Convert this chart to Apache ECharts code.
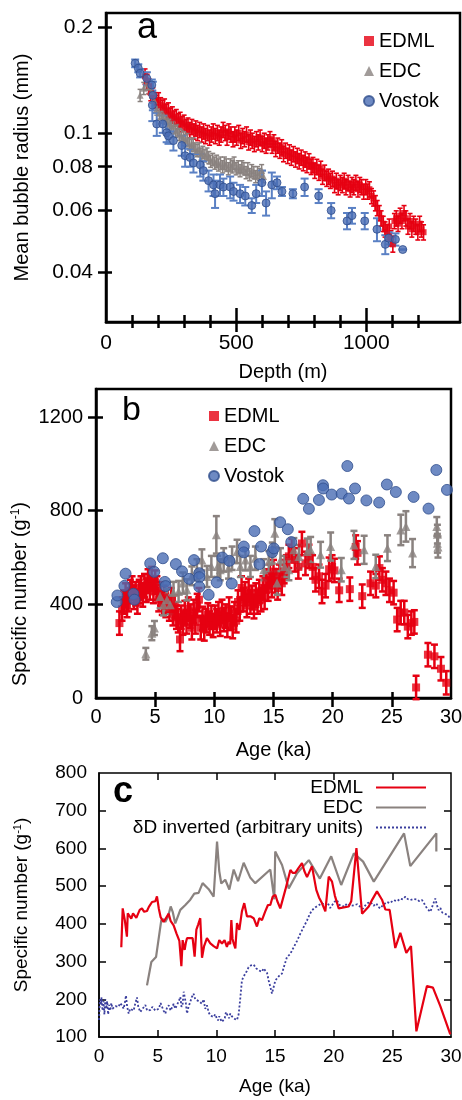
<!DOCTYPE html>
<html>
<head>
<meta charset="utf-8">
<script src="https://cdn.jsdelivr.net/npm/echarts@6/dist/echarts.min.js"></script>
<style>
  html, body { margin: 0; padding: 0; background: #fff; }
  #chart { width: 462px; height: 1100px; }
</style>
</head>
<body>
<div id="chart"></div>
<script>
// ---- panel a : mean bubble radius (mm) vs depth (m) ----
const edmlA = [[150,0.145],[158,0.140],[165,0.136],[172,0.130],[180,0.128],[188,0.124],[195,0.122],[202,0.124],[210,0.120],[218,0.118],[225,0.119],[232,0.115],[240,0.116],[248,0.112],[255,0.113],[262,0.110],[270,0.111],[278,0.108],[285,0.109],[292,0.106],[300,0.107],[308,0.104],[315,0.105],[322,0.102],[330,0.104],[338,0.101],[345,0.103],[352,0.100],[360,0.102],[368,0.099],[375,0.101],[382,0.098],[390,0.100],[398,0.097],[405,0.099],[412,0.101],[420,0.098],[428,0.100],[435,0.097],[442,0.099],[450,0.102],[458,0.100],[465,0.097],[472,0.101],[480,0.099],[488,0.096],[495,0.099],[502,0.097],[510,0.100],[518,0.095],[525,0.098],[532,0.096],[540,0.099],[548,0.094],[555,0.097],[562,0.095],[570,0.093],[578,0.096],[585,0.094],[592,0.097],[600,0.093],[608,0.095],[615,0.092],[622,0.094],[630,0.096],[638,0.092],[645,0.094],[652,0.090],[660,0.092],[668,0.089],[675,0.091],[682,0.087],[690,0.089],[698,0.086],[705,0.088],[712,0.085],[720,0.087],[728,0.084],[735,0.086],[742,0.083],[750,0.085],[758,0.082],[765,0.084],[772,0.081],[780,0.083],[788,0.080],[795,0.081],[802,0.078],[810,0.080],[818,0.077],[825,0.079],[832,0.075],[840,0.077],[848,0.074],[855,0.075],[862,0.073],[870,0.074],[878,0.071],[885,0.073],[892,0.070],[900,0.072],[908,0.071],[915,0.073],[922,0.070],[930,0.072],[938,0.069],[945,0.071],[952,0.070],[960,0.072],[968,0.069],[975,0.071],[982,0.070],[990,0.068],[998,0.070],[1005,0.068],[1012,0.069],[1020,0.066],[1028,0.065],[1035,0.063],[1042,0.061],[1050,0.059],[1057,0.057],[1065,0.055],[1072,0.053],[1080,0.052],[1088,0.054],[1095,0.050],[1102,0.048],[1108,0.056],[1115,0.057],[1122,0.055],[1130,0.058],[1137,0.056],[1145,0.059],[1152,0.057],[1160,0.054],[1168,0.056],[1175,0.053],[1182,0.055],[1190,0.054],[1198,0.052],[1205,0.055],[1212,0.053],[1220,0.052]];
const edmlRelErrA = 0.05;

const edcA = [[131,0.128],[145,0.134],[155,0.138],[165,0.135],[175,0.131],[185,0.124],[195,0.117],[205,0.114],[215,0.111],[222,0.112],[230,0.108],[238,0.109],[245,0.106],[252,0.105],[260,0.104],[268,0.101],[275,0.102],[282,0.099],[290,0.098],[298,0.097],[305,0.095],[312,0.096],[320,0.093],[328,0.092],[335,0.093],[342,0.090],[350,0.089],[358,0.090],[365,0.087],[372,0.088],[380,0.086],[388,0.087],[395,0.085],[402,0.083],[410,0.084],[418,0.082],[425,0.083],[432,0.081],[440,0.082],[448,0.080],[455,0.082],[462,0.081],[470,0.079],[478,0.081],[485,0.080],[492,0.082],[500,0.079],[508,0.080],[515,0.078],[522,0.080],[530,0.079],[538,0.077],[545,0.079],[552,0.076],[560,0.078],[568,0.077],[575,0.075],[582,0.077],[590,0.076],[598,0.078],[605,0.075]];
const edcRelErrA = 0.04;

// [depth, radius, error]
const vostokA = [[112,0.158,0.004],[124,0.153,0.004],[131,0.148,0.004],[157,0.143,0.006],[176,0.137,0.005],[180,0.128,0.012],[178,0.120,0.012],[195,0.106,0.008],[218,0.106,0.006],[233,0.100,0.006],[240,0.098,0.005],[259,0.095,0.006],[291,0.092,0.006],[304,0.086,0.006],[323,0.085,0.005],[336,0.082,0.005],[362,0.081,0.006],[374,0.078,0.005],[394,0.073,0.005],[413,0.071,0.005],[419,0.067,0.006],[438,0.071,0.005],[451,0.070,0.004],[477,0.070,0.005],[490,0.068,0.004],[515,0.067,0.004],[535,0.066,0.004],[560,0.062,0.003],[577,0.067,0.004],[599,0.072,0.006],[615,0.063,0.005],[637,0.071,0.006],[657,0.072,0.003],[676,0.068,0.002],[718,0.067,0.002],[763,0.070,0.004],[817,0.066,0.003],[865,0.060,0.003],[926,0.056,0.003],[945,0.058,0.003],[994,0.056,0.003],[1041,0.053,0.004],[1073,0.048,0.003],[1086,0.050,0.002],[1112,0.0496,0.002],[1140,0.0464,0]];

const depthLabels = [0, 500, 1000];
const depthMajor = [500, 1000];
const depthMinor = [100, 200, 300, 400, 600, 700, 800, 900, 1100, 1200];
const radiusTicks = [0.04, 0.06, 0.08, 0.1, 0.2];

// ---- panel b : specific number (g-1) vs age (ka) ----
const edmlB = [[1.98,320],[2.2,380],[2.35,410],[2.5,440],[2.62,395],[2.75,420],[2.9,455],[3.05,470],[3.2,430],[3.35,445],[3.5,410],[3.65,455],[3.8,470],[3.95,440],[4.1,480],[4.25,460],[4.4,500],[4.55,470],[4.7,510],[4.85,455],[5.0,495],[5.15,470],[5.3,420],[5.45,445],[5.6,405],[5.75,430],[5.9,395],[6.05,415],[6.2,380],[6.35,420],[6.5,360],[6.65,390],[6.8,345],[6.95,330],[7.1,250],[7.2,345],[7.35,320],[7.5,365],[7.65,325],[7.8,380],[7.95,350],[8.1,300],[8.25,370],[8.4,325],[8.55,395],[8.7,420],[8.85,300],[9.0,340],[9.15,295],[9.3,330],[9.45,355],[9.6,320],[9.75,345],[9.9,310],[10.05,345],[10.2,330],[10.35,360],[10.5,315],[10.65,370],[10.8,335],[10.95,350],[11.1,310],[11.25,380],[11.4,340],[11.55,305],[11.7,360],[11.85,330],[12.0,410],[12.15,380],[12.3,470],[12.45,420],[12.6,445],[12.75,395],[12.9,460],[13.05,410],[13.2,430],[13.35,390],[13.5,440],[13.65,410],[13.8,455],[13.95,420],[14.1,470],[14.25,430],[14.4,500],[14.55,465],[14.7,520],[14.85,480],[15.0,540],[15.15,500],[15.35,470],[15.5,520],[15.7,490],[15.9,540],[16.1,560],[16.3,605],[16.55,630],[16.8,590],[17.1,560],[17.4,660],[17.7,575],[18.0,605],[18.3,560],[18.55,505],[18.85,520],[19.1,455],[19.4,480],[19.7,550],[19.95,560],[20.15,545],[20.55,460],[21.45,465],[21.95,645],[22.1,620],[22.5,435],[23.2,490],[23.65,480],[23.95,555],[24.2,505],[24.5,490],[24.8,460],[25.15,450],[25.45,335],[25.75,365],[26.05,365],[26.35,305],[26.65,320],[26.9,325],[27.05,45],[28.05,185],[28.6,178],[29.15,125],[29.6,65]];
const edmlErrB = 50;

// [age, number, error]
const edcB = [[4.21,189,25],[4.72,277,30],[4.94,299,30],[5.42,434,50],[5.7,398,45],[6.0,420,45],[6.27,398,40],[6.55,451,45],[6.98,455,45],[7.34,491,45],[7.68,462,45],[8.1,522,40],[8.53,548,45],[8.95,590,45],[9.38,519,45],[9.75,562,45],[10.17,697,80],[10.28,562,45],[10.5,548,45],[10.79,590,50],[11.2,555,45],[11.5,597,50],[11.92,626,50],[12.2,562,45],[12.63,590,45],[13.05,562,45],[13.47,597,50],[14.18,548,45],[14.6,583,45],[14.9,619,45],[15.11,704,60],[15.3,491,50],[15.59,590,50],[15.93,562,45],[16.3,548,45],[16.72,633,50],[17.15,604,50],[17.85,626,55],[18.14,633,55],[18.98,612,55],[19.83,647,60],[20.73,548,50],[21.8,654,60],[22.66,633,60],[23.64,562,50],[24.63,640,55],[25.76,718,65],[26.19,733,65],[26.75,619,60],[28.8,733,40],[28.85,700,40],[28.85,661,40],[28.9,645,45]];

const vostokB = [[1.75,410],[1.81,438],[2.4,479],[2.5,531],[3.16,445],[3.25,420],[4.58,575],[4.92,539],[5.65,597],[5.82,496],[5.88,478],[6.75,572],[7.27,541],[7.88,509],[8.28,589],[8.73,533],[8.73,516],[8.73,475],[9.52,441],[10.2,494],[10.68,600],[11.27,586],[11.47,489],[12.49,647],[12.49,622],[13.39,713],[13.95,647],[13.81,572],[14.89,623],[15.03,639],[15.56,751],[16.21,721],[16.5,666],[17.51,851],[17.99,808],[18.84,846],[19.18,909],[19.2,895],[19.92,869],[20.76,873],[21.24,991],[21.38,852],[21.89,895],[22.85,844],[23.93,835],[24.58,912],[25.34,880],[26.84,859],[28.1,809],[28.76,974],[29.66,889]];

const ageLabels = [0, 5, 10, 15, 20, 25, 30];
const ageTicks = [5, 10, 15, 20, 25];
const numLabelsB = [0, 400, 800, 1200];
const numTicksB = [400, 800, 1200];

// ---- panel c : lines ----
const edmlC = [[1.9,338],[2.02,441],[2.2,410],[2.38,366],[2.45,428],[2.53,426],[2.75,414],[2.9,428],[3.04,430],[3.18,416],[3.32,420],[3.47,437],[3.66,441],[3.85,432],[4.09,434],[4.25,445],[4.37,450],[4.52,458],[4.66,462],[4.8,460],[4.94,473],[5.1,440],[5.25,418],[5.37,417],[5.5,405],[5.65,409],[5.8,420],[5.94,427],[6.1,408],[6.36,396],[6.6,375],[6.85,355],[7.02,288],[7.13,357],[7.22,340],[7.3,331],[7.4,350],[7.5,362],[7.65,360],[7.78,362],[7.98,362],[8.15,313],[8.3,385],[8.45,398],[8.63,415],[8.78,310],[8.95,340],[9.2,362],[9.35,355],[9.49,348],[9.63,345],[9.77,341],[9.92,338],[10.06,335],[10.25,357],[10.38,352],[10.48,348],[10.6,353],[10.7,357],[10.9,339],[11.05,353],[11.18,346],[11.28,410],[11.38,360],[11.48,348],[11.62,335],[11.76,402],[11.96,384],[12.18,433],[12.38,455],[12.61,420],[12.9,420],[13.18,415],[13.46,393],[13.66,415],[13.89,410],[14.17,433],[14.4,450],[14.6,450],[14.8,472],[15.03,477],[15.2,460],[15.45,441],[15.88,490],[16.31,543],[16.5,535],[16.73,535],[17.0,548],[17.3,561],[17.5,540],[17.73,524],[18.15,553],[18.52,490],[18.75,470],[19.0,455],[19.29,433],[19.58,525],[19.86,512],[20.1,475],[20.43,441],[21.28,446],[21.5,460],[21.94,601],[22.42,427],[22.99,446],[23.3,465],[23.69,486],[24.12,464],[24.41,438],[24.77,437],[25.25,336],[25.68,376],[26.19,323],[26.59,341],[27.05,115],[27.95,235],[28.46,231],[29.09,182],[29.94,107]];

const edcC = [[4.09,237],[4.46,299],[4.86,312],[5.31,410],[5.5,412],[5.65,405],[5.88,419],[6.11,446],[6.28,432],[6.5,401],[6.93,437],[7.36,450],[7.78,464],[8.12,480],[8.49,482],[8.83,508],[9.35,492],[9.77,472],[10.06,618],[10.25,540],[10.42,507],[10.76,517],[11.11,491],[11.48,544],[11.85,513],[12.33,562],[12.9,522],[13.32,508],[14.6,544],[14.94,465],[15.02,592],[15.6,556],[16.17,494],[16.88,534],[17.88,569],[18.82,520],[19.79,579],[20.64,503],[21.72,587],[22.51,565],[23.42,512],[26.0,640],[26.53,553],[28.75,640],[28.75,592]];

const deltaDC = [[0.0,145],[0.08,200],[0.15,185],[0.22,205],[0.3,170],[0.38,195],[0.46,160],[0.54,200],[0.62,175],[0.7,195],[0.78,160],[0.86,185],[0.95,170],[1.05,190],[1.15,175],[1.25,170],[1.4,182],[1.55,178],[1.67,180],[1.8,190],[1.96,184],[2.1,175],[2.2,190],[2.3,210],[2.4,180],[2.53,162],[2.65,175],[2.82,180],[2.95,170],[3.1,190],[3.24,205],[3.35,180],[3.52,166],[3.65,172],[3.8,175],[3.95,185],[4.1,170],[4.23,166],[4.4,172],[4.55,180],[4.66,175],[4.8,170],[4.94,166],[5.1,175],[5.25,190],[5.37,188],[5.5,170],[5.65,162],[5.8,178],[5.94,184],[6.1,170],[6.25,180],[6.36,188],[6.5,175],[6.64,180],[6.8,195],[6.93,206],[7.03,180],[7.13,188],[7.22,220],[7.3,215],[7.4,190],[7.5,162],[7.63,180],[7.78,193],[7.9,205],[8.06,215],[8.2,200],[8.35,197],[8.5,195],[8.65,190],[8.78,188],[8.92,200],[9.05,175],[9.2,184],[9.35,165],[9.49,157],[9.63,160],[9.77,153],[9.9,160],[10.03,150],[10.14,144],[10.25,155],[10.34,148],[10.48,140],[10.62,135],[10.72,150],[10.82,166],[10.95,158],[11.08,150],[11.19,162],[11.32,155],[11.45,152],[11.56,148],[11.76,145],[11.9,160],[12.04,202],[12.18,250],[12.32,260],[12.47,268],[12.6,275],[12.75,285],[12.95,290],[13.18,292],[13.4,282],[13.6,277],[13.75,280],[13.89,273],[14.03,282],[14.17,286],[14.32,270],[14.46,250],[14.6,233],[14.74,215],[14.88,220],[15.03,250],[15.17,251],[15.35,262],[15.59,268],[15.8,290],[16.02,312],[16.3,320],[16.59,338],[16.88,355],[17.16,374],[17.45,392],[17.73,409],[17.95,425],[18.15,436],[18.45,444],[18.72,449],[19.0,455],[19.29,449],[19.5,455],[19.7,442],[19.86,449],[20.05,458],[20.28,463],[20.5,450],[20.71,449],[20.9,445],[21.14,454],[21.4,448],[21.7,449],[22.0,452],[22.27,445],[22.5,440],[22.7,449],[22.9,455],[23.13,458],[23.4,448],[23.64,454],[23.8,445],[23.98,441],[24.2,450],[24.55,458],[24.8,455],[25.11,463],[25.4,460],[25.68,467],[25.9,465],[26.11,472],[26.3,466],[26.53,463],[26.8,466],[27.1,465],[27.3,460],[27.53,463],[27.75,452],[27.95,441],[28.1,436],[28.24,432],[28.45,450],[28.66,467],[28.8,450],[28.95,436],[29.1,442],[29.25,430],[29.37,432],[29.6,425],[29.8,420],[29.94,414]];

const numLabelsC = [100, 200, 300, 400, 500, 600, 700, 800];
const numTicksC = [200, 300, 400, 500, 600, 700];

// ---- styling ----
const FONT = '"Liberation Sans", Arial, Helvetica, sans-serif';
const RED = '#e60012';
const GREY = '#8a827f';
const BLUE = '#4a6db4';
const BLUE_EDGE = '#2f4e8c';
const BLUE_BAR = '#5a80c4';
const NAVY = '#3b3f9e';
const lg = v => Math.log10(v);

const chart = echarts.init(document.getElementById('chart'), null, { renderer: 'canvas' });

// error bars through the axis scales
function errorBars (data, color, width, cap, xi, yi) {
  return {
    type: 'custom',
    xAxisIndex: xi,
    yAxisIndex: yi,
    silent: true,
    encode: { x: 0, y: [1, 2] },
    data: data,
    renderItem: (params, api) => {
      const top = api.coord([api.value(0), api.value(2)]);
      const bot = api.coord([api.value(0), api.value(1)]);
      const st = { stroke: color, lineWidth: width };
      return {
        type: 'group',
        children: [
          { type: 'line', shape: { x1: top[0], y1: top[1], x2: bot[0], y2: bot[1] }, style: st },
          { type: 'line', shape: { x1: top[0] - cap, y1: top[1], x2: top[0] + cap, y2: top[1] }, style: st },
          { type: 'line', shape: { x1: bot[0] - cap, y1: bot[1], x2: bot[0] + cap, y2: bot[1] }, style: st }
        ]
      };
    }
  };
}

// one value axis, several copies are stacked to get ticks on both sides
function axis (opt) {
  const lw = opt.lw || 2.5;
  return {
    type: 'value',
    gridIndex: opt.grid,
    position: opt.position,
    min: opt.min,
    max: opt.max,
    splitLine: { show: false },
    axisLine: { show: !!opt.line, onZero: false, lineStyle: { color: '#000', width: lw } },
    axisTick: {
      show: !!opt.ticks,
      customValues: opt.ticks,
      inside: !!opt.inside,
      length: opt.len || 8,
      lineStyle: { color: '#000', width: lw }
    },
    axisLabel: {
      show: !!opt.labels,
      customValues: opt.labels,
      formatter: opt.formatter || (v => String(v)),
      margin: opt.margin || 10,
      color: '#000',
      fontFamily: FONT,
      fontSize: opt.fs || 20
    },
    name: opt.name,
    nameLocation: 'middle',
    nameGap: opt.nameGap,
    nameTextStyle: Object.assign({ color: '#000', fontFamily: FONT, fontSize: opt.nfs || 20 }, opt.nameStyle || {})
  };
}

const radiusFmt = v => String(Math.round(Math.pow(10, v) * 100) / 100);
const yMinA = lg(0.0288), yMaxA = lg(0.22);
const logTicks = radiusTicks.map(lg);

const xAxes = [
  // panel a
  axis({ grid: 0, position: 'bottom', min: 0, max: 1360, line: true, labels: depthLabels, ticks: depthMajor, len: 10, margin: 11, fs: 21, name: 'Depth (m)', nameGap: 40 }),
  axis({ grid: 0, position: 'bottom', min: 0, max: 1360, ticks: depthMajor, inside: true, len: 14 }),
  axis({ grid: 0, position: 'bottom', min: 0, max: 1360, ticks: depthMinor, len: 6 }),
  axis({ grid: 0, position: 'bottom', min: 0, max: 1360, ticks: depthMinor, inside: true, len: 7 }),
  // panel b
  axis({ grid: 1, position: 'bottom', min: 0, max: 30, line: true, labels: ageLabels, ticks: ageTicks, len: 9, margin: 9, name: 'Age (ka)', nameGap: 42 }),
  axis({ grid: 1, position: 'bottom', min: 0, max: 30, ticks: ageTicks, inside: true, len: 6 }),
  // panel c
  axis({ grid: 2, position: 'bottom', min: 0, max: 30, line: true, lw: 1.5, labels: ageLabels, ticks: ageTicks, inside: true, len: 7, margin: 10, fs: 19, name: 'Age (ka)', nameGap: 40, nfs: 19 }),
  axis({ grid: 2, position: 'top', min: 0, max: 30, lw: 1.5, ticks: ageTicks, inside: true, len: 7 })
];

const yAxes = [
  // panel a
  axis({ grid: 0, position: 'left', min: yMinA, max: yMaxA, line: true, labels: logTicks, ticks: logTicks, formatter: radiusFmt, len: 8, margin: 13, fs: 21, name: 'Mean bubble radius (mm)', nameGap: 74 }),
  axis({ grid: 0, position: 'left', min: yMinA, max: yMaxA, ticks: logTicks, inside: true, len: 6 }),
  // panel b
  axis({ grid: 1, position: 'left', min: 0, max: 1320, line: true, labels: numLabelsB, ticks: numTicksB, len: 8, margin: 13 }),
  axis({ grid: 1, position: 'left', min: 0, max: 1320, ticks: numTicksB, inside: true, len: 7 }),
  // panel c
  axis({ grid: 2, position: 'left', min: 100, max: 800, line: true, lw: 1.5, labels: numLabelsC, ticks: numTicksC, inside: true, len: 7, margin: 12, fs: 19,
    name: 'Specific number (g{s|-1})', nameGap: 68, nfs: 19, nameStyle: { rich: { s: { fontSize: 11, fontFamily: FONT, color: '#000', verticalAlign: 'top', padding: [0, 0, 6, 0] } } } }),
  axis({ grid: 2, position: 'right', min: 100, max: 800, lw: 1.5, ticks: numTicksC, inside: true, len: 7 })
];

const logPts = pts => pts.map(([x, v]) => [x, lg(v)]);
const relBars = (pts, rel) => pts.map(([x, v]) => [x, lg(v * (1 - rel)), lg(v * (1 + rel))]);
const absBarsLog = pts => pts.map(([x, v, e]) => [x, lg(v - e), lg(v + e)]);
const absBars = (pts, e) => pts.map(([x, v, ee]) => [x, v - (ee === undefined ? e : ee), v + (ee === undefined ? e : ee)]);

const legendNames = { EDML_c: 'EDML', EDC_c: 'EDC', dD_c: '\u03b4D inverted (arbitrary units)' };

const series = [
  // panel a
  errorBars(relBars(edmlA, edmlRelErrA), RED, 1.6, 2.5, 0, 0),
  { name: 'EDML', type: 'scatter', xAxisIndex: 0, yAxisIndex: 0, symbol: 'rect', symbolSize: 6, itemStyle: { color: RED }, data: logPts(edmlA) },
  errorBars(relBars(edcA, edcRelErrA), GREY, 1.5, 2.5, 0, 0),
  { name: 'EDC', type: 'scatter', xAxisIndex: 0, yAxisIndex: 0, symbol: 'triangle', symbolSize: 7, itemStyle: { color: GREY }, data: logPts(edcA) },
  errorBars(absBarsLog(vostokA), BLUE_BAR, 2, 4, 0, 0),
  { name: 'Vostok', type: 'scatter', xAxisIndex: 0, yAxisIndex: 0, symbol: 'circle', symbolSize: 8, itemStyle: { color: BLUE, borderColor: BLUE_EDGE, borderWidth: 1 }, data: logPts(vostokA) },
  // panel b
  errorBars(absBars(edmlB, edmlErrB), RED, 2.5, 3.5, 4, 2),
  { name: 'EDML', type: 'scatter', xAxisIndex: 4, yAxisIndex: 2, symbol: 'rect', symbolSize: 8, itemStyle: { color: RED }, data: edmlB },
  errorBars(absBars(edcB), GREY, 2.5, 3.5, 4, 2),
  { name: 'EDC', type: 'scatter', xAxisIndex: 4, yAxisIndex: 2, symbol: 'triangle', symbolSize: 9, itemStyle: { color: GREY }, data: edcB.map(p => [p[0], p[1]]) },
  { name: 'Vostok', type: 'scatter', xAxisIndex: 4, yAxisIndex: 2, symbol: 'circle', symbolSize: 11, itemStyle: { color: BLUE, borderColor: BLUE_EDGE, borderWidth: 1 }, data: vostokB },
  // panel c
  { name: 'dD_c', type: 'line', xAxisIndex: 6, yAxisIndex: 4, symbol: 'none', lineStyle: { color: NAVY, width: 1.8, type: [2, 2] }, itemStyle: { color: NAVY }, data: deltaDC },
  { name: 'EDC_c', type: 'line', xAxisIndex: 6, yAxisIndex: 4, symbol: 'none', lineStyle: { color: GREY, width: 2.2 }, itemStyle: { color: GREY }, data: edcC },
  { name: 'EDML_c', type: 'line', xAxisIndex: 6, yAxisIndex: 4, symbol: 'none', lineStyle: { color: RED, width: 2.2 }, itemStyle: { color: RED }, data: edmlC }
];

const legendText = { color: '#000', fontFamily: FONT, fontSize: 20, lineHeight: 20 };

chart.setOption({
  animation: false,
  backgroundColor: '#fff',
  grid: [
    { left: 106, top: 13, width: 354, height: 309, show: true, borderColor: '#000', borderWidth: 2.5, outerBoundsMode: 'none' },
    { left: 96, top: 389, width: 355, height: 309, show: true, borderColor: '#000', borderWidth: 2.5, outerBoundsMode: 'none' },
    { left: 99, top: 773, width: 352, height: 264, show: true, borderColor: '#000', borderWidth: 1.5, outerBoundsMode: 'none' }
  ],
  xAxis: xAxes,
  yAxis: yAxes,
  legend: [
    { orient: 'vertical', left: 363, top: 31, padding: 0, itemGap: 10, itemWidth: 10, itemHeight: 10, selectedMode: false, textStyle: legendText, data: ['EDML', 'EDC', 'Vostok'] },
    { orient: 'vertical', left: 208, top: 406, padding: 0, itemGap: 10, itemWidth: 10, itemHeight: 10, selectedMode: false, textStyle: legendText, data: ['EDML', 'EDC', 'Vostok'] },
    { orient: 'vertical', right: 35, top: 778, padding: 0, itemGap: 1, itemWidth: 50, itemHeight: 1, align: 'right', selectedMode: false,
      itemStyle: { opacity: 0 },
      textStyle: { color: '#000', fontFamily: FONT, fontSize: 19, lineHeight: 19, padding: [0, 8, 0, 0] },
      formatter: n => legendNames[n], data: ['EDML_c', 'EDC_c', 'dD_c'] }
  ],
  graphic: [
    { type: 'text', x: 137, y: 28, style: { text: 'a', fontFamily: FONT, fontSize: 36, fill: '#000', verticalAlign: 'middle' } },
    { type: 'text', x: 122, y: 411, style: { text: 'b', fontFamily: FONT, fontSize: 34, fill: '#000', verticalAlign: 'middle' } },
    { type: 'text', x: 113, y: 792, style: { text: 'c', fontFamily: FONT, fontSize: 36, fontWeight: 'bold', fill: '#000', verticalAlign: 'middle' } },
    { type: 'text', x: 20, y: 594, rotation: Math.PI / 2,
      style: { text: 'Specific number (g{s|-1})', fontFamily: FONT, fontSize: 20, fill: '#000', align: 'center', verticalAlign: 'middle',
        rich: { s: { fontSize: 12, fontFamily: FONT, fill: '#000', verticalAlign: 'top', padding: [0, 0, 7, 0] } } } }
  ],
  series: series
});
</script>
</body>
</html>
